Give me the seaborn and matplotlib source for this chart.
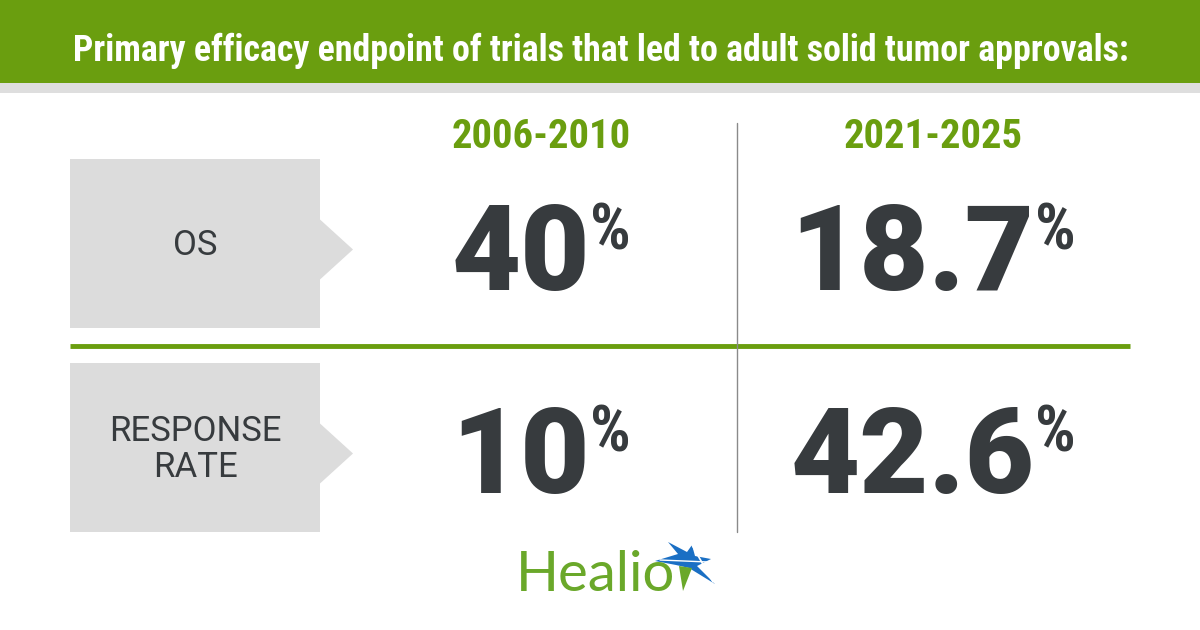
import matplotlib
matplotlib.use("Agg")
import matplotlib.pyplot as plt
from matplotlib.patches import Polygon, Rectangle
import seaborn as sns

# --- data ---
title = "Primary efficacy endpoint of trials that led to adult solid tumor approvals:"
periods = ["2006-2010", "2021-2025"]
endpoints = ["OS", "RESPONSE\nRATE"]
os_values = ["40", "18.7"]
rr_values = ["10", "42.6"]

GREEN = "#6a9e0f"
DARK = "#373b3e"
BOX = "#dcdcdc"
COND = ["Roboto Condensed", "DejaVu Sans"]

sns.set_theme(style="white")
plt.rcParams["font.family"] = ["Roboto", "DejaVu Sans"]

fig = plt.figure(figsize=(12, 6.3), dpi=100)
ax = fig.add_axes([0, 0, 1, 1])
ax.set_xlim(0, 1200)
ax.set_ylim(630, 0)
ax.axis("off")
fig.canvas.draw()
r = fig.canvas.get_renderer()


def fit(t, width):
    # shrink/grow the font so the text spans the wanted pixel width
    w = t.get_window_extent(r).width
    t.set_fontsize(t.get_fontsize() * width / w)


# header band
ax.add_patch(Rectangle((0, 0), 1200, 83, color=GREEN, lw=0))
ax.add_patch(Rectangle((0, 83), 1200, 10, color="#dedede", lw=0))
t = ax.text(601, 61, title, color="white", fontsize=25, fontweight="bold",
            family=COND, ha="center", va="baseline")
fit(t, 1056)

# label boxes with arrow notch
box_rows = [(159, 328), (363, 532)]
for (top, bot), lab in zip(box_rows, endpoints):
    mid = (top + bot) / 2 + 6
    pts = [(70, top), (320, top), (320, mid - 30), (353, mid),
           (320, mid + 30), (320, bot), (70, bot)]
    ax.add_patch(Polygon(pts, closed=True, color=BOX, lw=0))
    ax.text(195, mid - 4, lab, color=DARK, fontsize=25, ha="center", va="center",
            linespacing=1.15)

ax.plot([70, 1130], [346, 346], color=GREEN, lw=3.5, solid_capstyle="butt")
ax.plot([737, 737], [123, 532], color="#8a8a8a", lw=1)

col_x = [541, 933]
for x, p in zip(col_x, periods):
    t = ax.text(x, 148, p, color=GREEN, fontsize=26, fontweight="bold",
                family=COND, ha="center", va="baseline")
    fit(t, 180)

for vals, base in [(os_values, 290), (rr_values, 493)]:
    for x, v in zip(col_x, vals):
        t1 = ax.text(0, base, v, color=DARK, fontsize=86, fontweight="black",
                     ha="left", va="baseline")
        t2 = ax.text(0, base - 41, "%", color=DARK, fontsize=46, fontweight="bold",
                     family=COND, ha="left", va="baseline")
        w1 = t1.get_window_extent(r).width
        w2 = t2.get_window_extent(r).width
        x0 = x - (w1 + w2) / 2
        t1.set_x(x0)
        t2.set_x(x0 + w1)

# Healio logo
t = ax.text(516, 591, "Healio", color="#6aa82a", fontsize=36, family="Lato",
            ha="left", va="baseline")
fit(t, 160)
star_blue = [(655, 561), (678, 554), (668, 542), (687, 552), (692, 545),
             (695, 556), (711, 559), (697, 566), (715, 584), (689, 568),
             (676, 565)]
star_green = [(679, 566), (692, 568), (683, 591)]
ax.add_patch(Polygon(star_blue, closed=True, color="#1a6fc4", lw=0))
ax.add_patch(Polygon(star_green, closed=True, color="#6aa82a", lw=0))
ax.plot([692, 713], [545, 582], color="white", lw=1.2)
ax.plot([660, 708], [560, 562], color="white", lw=1.0)

fig.savefig("out.png", dpi=100)
